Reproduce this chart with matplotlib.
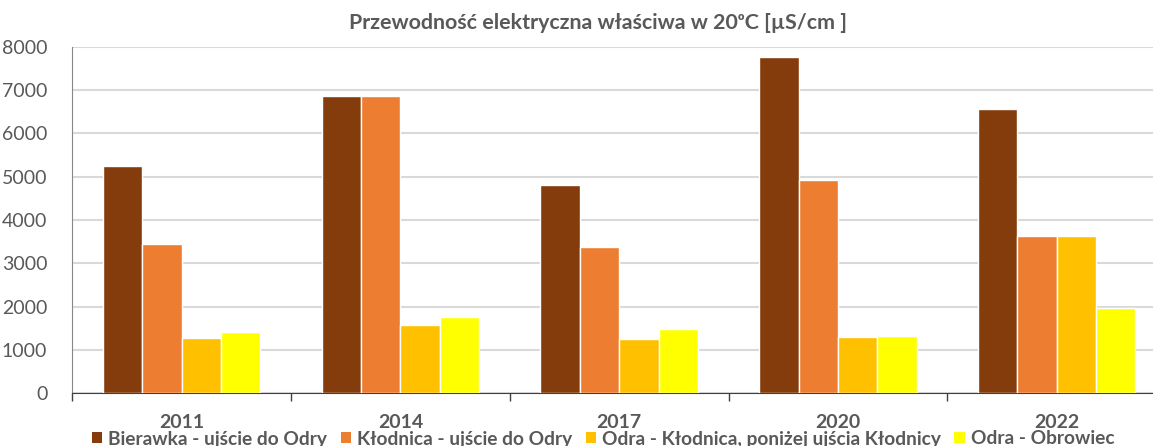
import matplotlib.pyplot as plt
import numpy as np
from matplotlib.patches import Patch

# values
years = ["2011", "2014", "2017", "2020", "2022"]
series_names = [
    "Bierawka - ujście do Odry",
    "Kłodnica - ujście do Odry",
    "Odra - Kłodnica, poniżej ujścia Kłodnicy",
    "Odra - Obrowiec",
]
bierawka = [5250, 6850, 4800, 7750, 6570]
klodnica = [3450, 6850, 3370, 4920, 3640]
odra_klodnica = [1280, 1580, 1250, 1310, 3640]
odra_obrowiec = [1420, 1760, 1480, 1330, 1960]
colors = ["#843C0C", "#ED7D31", "#FFC000", "#FFFF00"]

TEXT = "#595959"
plt.rcParams["font.family"] = ["Lato", "DejaVu Sans"]

fig = plt.figure(figsize=(11.53, 4.46), dpi=100)
ax = fig.add_axes([0.0627, 0.1182, 0.9486, 0.7773])

x = np.arange(len(years))
width = 0.18
all_series = [bierawka, klodnica, odra_klodnica, odra_obrowiec]
for i, vals in enumerate(all_series):
    ax.bar(x + (i - 1.5) * width, vals, width, color=colors[i],
           edgecolor="white", linewidth=1, zorder=3)

ax.set_xlim(-0.5, len(years) - 0.5)
ax.set_ylim(0, 8000)
ax.set_yticks(range(0, 8001, 1000))
ax.yaxis.grid(True, color="#d9d9d9", linewidth=1.5, zorder=0)
ax.tick_params(axis="y", length=0, pad=18, labelsize=14, labelcolor=TEXT)

ax.set_xticks(x)
ax.set_xticklabels(years, fontweight="bold")
ax.set_xticks(np.arange(-0.5, len(years)), minor=True)
ax.tick_params(axis="x", which="major", length=0, pad=15, labelsize=14, labelcolor=TEXT)
ax.tick_params(axis="x", which="minor", length=6, width=1, color="#404040")

for s in ["top", "right"]:
    ax.spines[s].set_visible(False)
ax.spines["left"].set_color("#868686")
ax.spines["bottom"].set_color("#404040")

fig.text(598 / 1153, 1 - 23 / 446,
         "Przewodność elektryczna właściwa w 20ᵒC [µS/cm ]",
         ha="center", va="center", fontsize=15.4, fontweight="bold", color=TEXT)

handles = [Patch(facecolor=c) for c in colors]
fig.legend(handles, series_names, loc="center", bbox_to_anchor=(603 / 1153, 1 - 439 / 446),
           ncol=4, frameon=False, handlelength=0.55, handleheight=0.55,
           handletextpad=0.3, columnspacing=0.7, borderpad=0,
           prop={"weight": "bold", "size": 13.8})
for t in fig.legends[0].get_texts():
    t.set_color(TEXT)

fig.savefig("out.png", dpi=100)
